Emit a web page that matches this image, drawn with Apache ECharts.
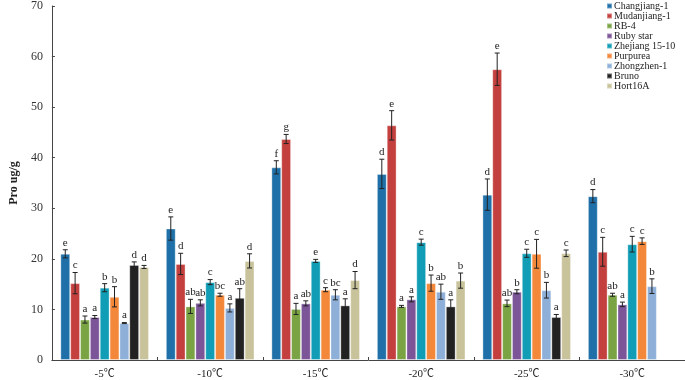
<!DOCTYPE html>
<html>
<head>
<meta charset="utf-8">
<script src="https://cdn.jsdelivr.net/npm/echarts@6/dist/echarts.min.js"></script>
<style>html,body{margin:0;padding:0;background:#fff;}#c{width:685px;height:380px;}</style>
</head>
<body>
<div id="c"></div>
<script>
const categories = ['-5℃', '-10℃', '-15℃', '-20℃', '-25℃', '-30℃'];
const yTicks = [0, 10, 20, 30, 40, 50, 60, 70];
const seriesNames = ['Changjiang-1', 'Mudanjiang-1', 'RB-4', 'Ruby star', 'Zhejiang 15-10', 'Purpurea', 'Zhongzhen-1', 'Bruno', 'Hort16A'];

const changjiang = [21.0, 26.0, 38.1, 36.8, 32.7, 32.4];
const mudanjiang = [15.2, 19.0, 43.7, 46.4, 57.5, 21.4];
const rb4 = [8.0, 10.6, 10.1, 10.6, 11.2, 12.9];
const rubyStar = [8.5, 11.3, 11.2, 12.0, 13.5, 11.0];
const zhejiang = [14.3, 15.4, 19.6, 23.3, 21.1, 22.9];
const purpurea = [12.5, 12.9, 13.9, 15.2, 21.0, 23.5];
const zhongzhen = [7.3, 10.3, 12.9, 13.5, 13.8, 14.6];
const bruno = [18.8, 12.3, 10.8, 10.6, 8.5, null];
const hort16a = [18.4, 19.6, 15.8, 15.7, 21.1, null];

const changjiangErr = [0.8, 2.3, 1.3, 2.9, 3.1, 1.3];
const mudanjiangErr = [2.1, 2.1, 0.9, 2.9, 3.2, 2.85];
const rb4Err = [0.7, 1.4, 1.1, 0.2, 0.65, 0.3];
const rubyStarErr = [0.3, 0.6, 0.5, 0.5, 0.4, 0.45];
const zhejiangErr = [0.8, 0.5, 0.3, 0.6, 0.8, 1.55];
const purpureaErr = [2.0, 0.3, 0.4, 1.6, 2.85, 0.65];
const zhongzhenErr = [0.1, 0.8, 1.0, 1.5, 1.55, 1.45];
const brunoErr = [0.6, 1.8, 1.3, 1.3, 0.5, null];
const hort16aErr = [0.3, 1.4, 1.7, 1.5, 0.65, null];

const changjiangSig = ['e', 'e', 'f', 'd', 'd', 'd'];
const mudanjiangSig = ['c', 'd', 'g', 'e', 'e', 'c'];
const rb4Sig = ['a', 'ab', 'a', 'a', 'ab', 'ab'];
const rubyStarSig = ['a', 'ab', 'ab', 'a', 'b', 'a'];
const zhejiangSig = ['b', 'c', 'e', 'c', 'c', 'c'];
const purpureaSig = ['b', 'bc', 'c', 'b', 'c', 'c'];
const zhongzhenSig = ['a', 'a', 'bc', 'ab', 'b', 'b'];
const brunoSig = ['d', 'ab', 'a', 'a', 'a', null];
const hort16aSig = ['d', 'd', 'd', 'b', 'c', null];

const values = [changjiang, mudanjiang, rb4, rubyStar, zhejiang, purpurea, zhongzhen, bruno, hort16a];
const errors = [changjiangErr, mudanjiangErr, rb4Err, rubyStarErr, zhejiangErr, purpureaErr, zhongzhenErr, brunoErr, hort16aErr];
const sigs = [changjiangSig, mudanjiangSig, rb4Sig, rubyStarSig, zhejiangSig, purpureaSig, zhongzhenSig, brunoSig, hort16aSig];

const colors = ['#1f70a8', '#c4403e', '#7aa444', '#7b5597', '#109db5', '#f3883a', '#8dafd8', '#222222', '#c9c39c'];
const CAT_GAP = 0.16;
const FONT = '"Liberation Serif", "Times New Roman", "Noto Sans CJK SC", serif';

const chart = echarts.init(document.getElementById('c'), null, {renderer: 'canvas'});

function makeRender(si) {
  return function (params, api) {
    const ci = api.value(0);
    const v = api.value(1);
    const e = api.value(2);
    const base = api.coord([ci, 0]);
    const band = api.size([1, 0])[0];
    const groupW = band * (1 - CAT_GAP);
    const barW = groupW / 9;
    const x = base[0] - groupW / 2 + (si + 0.5) * barW;
    const top = api.coord([ci, v + e])[1];
    const bot = api.coord([ci, v - e])[1];
    const cap = 2.5;
    const st = {stroke: '#222', lineWidth: 1};
    return {
      type: 'group',
      children: [
        {type: 'line', shape: {x1: x, y1: top, x2: x, y2: bot}, style: st},
        {type: 'line', shape: {x1: x - cap, y1: top, x2: x + cap, y2: top}, style: st},
        {type: 'line', shape: {x1: x - cap, y1: bot, x2: x + cap, y2: bot}, style: st},
        {type: 'text', style: {text: sigs[si][ci], x: x, y: top - 1.5, align: 'center', verticalAlign: 'bottom', fontFamily: FONT, fontSize: 11, fill: '#222'}}
      ]
    };
  };
}

const series = [];
seriesNames.forEach(function (name, i) {
  series.push({
    name: name,
    type: 'bar',
    data: values[i],
    barGap: 0,
    barCategoryGap: (CAT_GAP * 100) + '%',
    itemStyle: {color: colors[i], borderColor: 'rgba(255,255,255,0.35)', borderWidth: 1},
    emphasis: {disabled: true}
  });
});
seriesNames.forEach(function (name, i) {
  const d = [];
  values[i].forEach(function (v, ci) {
    if (v != null) d.push([ci, v, errors[i][ci]]);
  });
  series.push({
    name: name + ' err',
    type: 'custom',
    renderItem: makeRender(i),
    data: d,
    z: 5,
    itemStyle: {color: colors[i]}
  });
});

chart.setOption({
  animation: false,
  backgroundColor: '#fff',
  grid: {left: 39, right: 0, top: 4, bottom: 19, containLabel: false},
  legend: {
    orient: 'vertical',
    left: 606,
    top: 1,
    itemWidth: 5,
    itemHeight: 5,
    itemGap: 0,
    icon: 'rect',
    data: seriesNames,
    textStyle: {fontFamily: FONT, fontSize: 10, color: '#222', lineHeight: 10, padding: [0, 0, 0, -3]},
    padding: 0
  },
  xAxis: {
    type: 'category',
    data: categories,
    axisLine: {lineStyle: {color: '#444', width: 1}},
    axisTick: {show: true, inside: true, length: 3, alignWithLabel: false, lineStyle: {color: '#444'}},
    axisLabel: {fontFamily: FONT, fontSize: 11, color: '#222', margin: 9}
  },
  yAxis: {
    type: 'value',
    min: yTicks[0],
    max: yTicks[yTicks.length - 1],
    interval: 10,
    name: 'Pro ug/g',
    nameLocation: 'middle',
    nameGap: 31,
    nameTextStyle: {fontFamily: FONT, fontSize: 12, fontWeight: 'bold', color: '#222'},
    axisLine: {show: true, lineStyle: {color: '#444', width: 1}},
    axisTick: {show: true, inside: true, length: 3, lineStyle: {color: '#444'}},
    axisLabel: {fontFamily: FONT, fontSize: 12, color: '#333', margin: 9},
    splitLine: {show: false}
  },
  series: series
});
</script>
</body>
</html>
